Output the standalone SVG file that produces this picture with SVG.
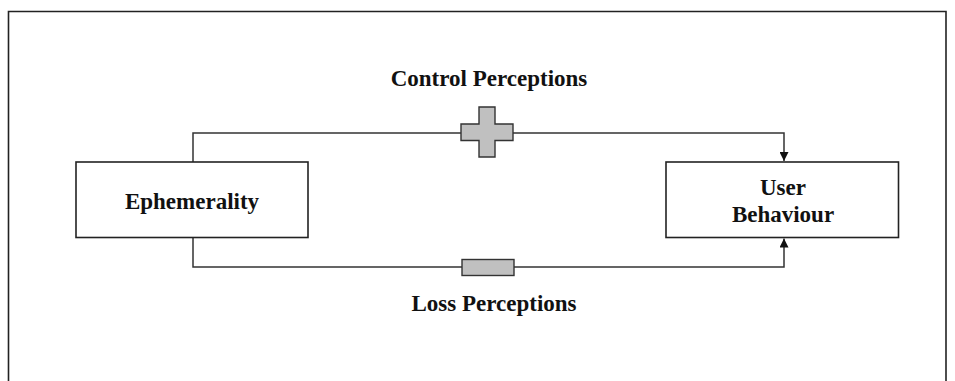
<svg xmlns="http://www.w3.org/2000/svg" width="955" height="381" viewBox="0 0 955 381">
<style>
.box{fill:#fff;stroke:#222;stroke-width:1.6}
.conn{fill:none;stroke:#333;stroke-width:1.5}
.sym{fill:#c0c0c0;stroke:#333;stroke-width:1.4}
.lbl{font-family:"Liberation Serif","Times New Roman",serif;font-weight:bold;font-size:23px;fill:#111;text-anchor:middle}
</style>
<defs>
<marker id="arr" viewBox="0 0 10 10" refX="10" refY="5" markerWidth="9" markerHeight="9" markerUnits="userSpaceOnUse" orient="auto">
<path d="M0,0 L10,5 L0,10 z" fill="#111"/>
</marker>
</defs>
<rect x="0" y="0" width="955" height="381" fill="#fff"/>
<path d="M8.5,381 V11.5 H946 V381" fill="none" stroke="#222" stroke-width="1.6"/>
<g id="connectors">
<path class="conn" d="M193,162 V133 H784 V161" marker-end="url(#arr)"/>
<path class="conn" d="M193,237 V267 H784 V238.5" marker-end="url(#arr)"/>
</g>
<g id="control-symbol">
<path class="sym" d="M479,107 H495 V124 H513 V140.5 H495 V157 H479 V140.5 H461 V124 H479 Z"/>
</g>
<g id="loss-symbol">
<rect class="sym" x="462" y="259.5" width="52" height="16"/>
</g>
<g id="ephemerality">
<rect class="box" x="76" y="162" width="232" height="75.5"/>
<text class="lbl" x="192" y="209">Ephemerality</text>
</g>
<g id="user-behaviour">
<rect class="box" x="666" y="162" width="232.5" height="75.5"/>
<text class="lbl" x="783" y="195">User</text>
<text class="lbl" x="783" y="222">Behaviour</text>
</g>
<g id="labels">
<text class="lbl" x="489" y="86">Control Perceptions</text>
<text class="lbl" x="494" y="311">Loss Perceptions</text>
</g>
</svg>
